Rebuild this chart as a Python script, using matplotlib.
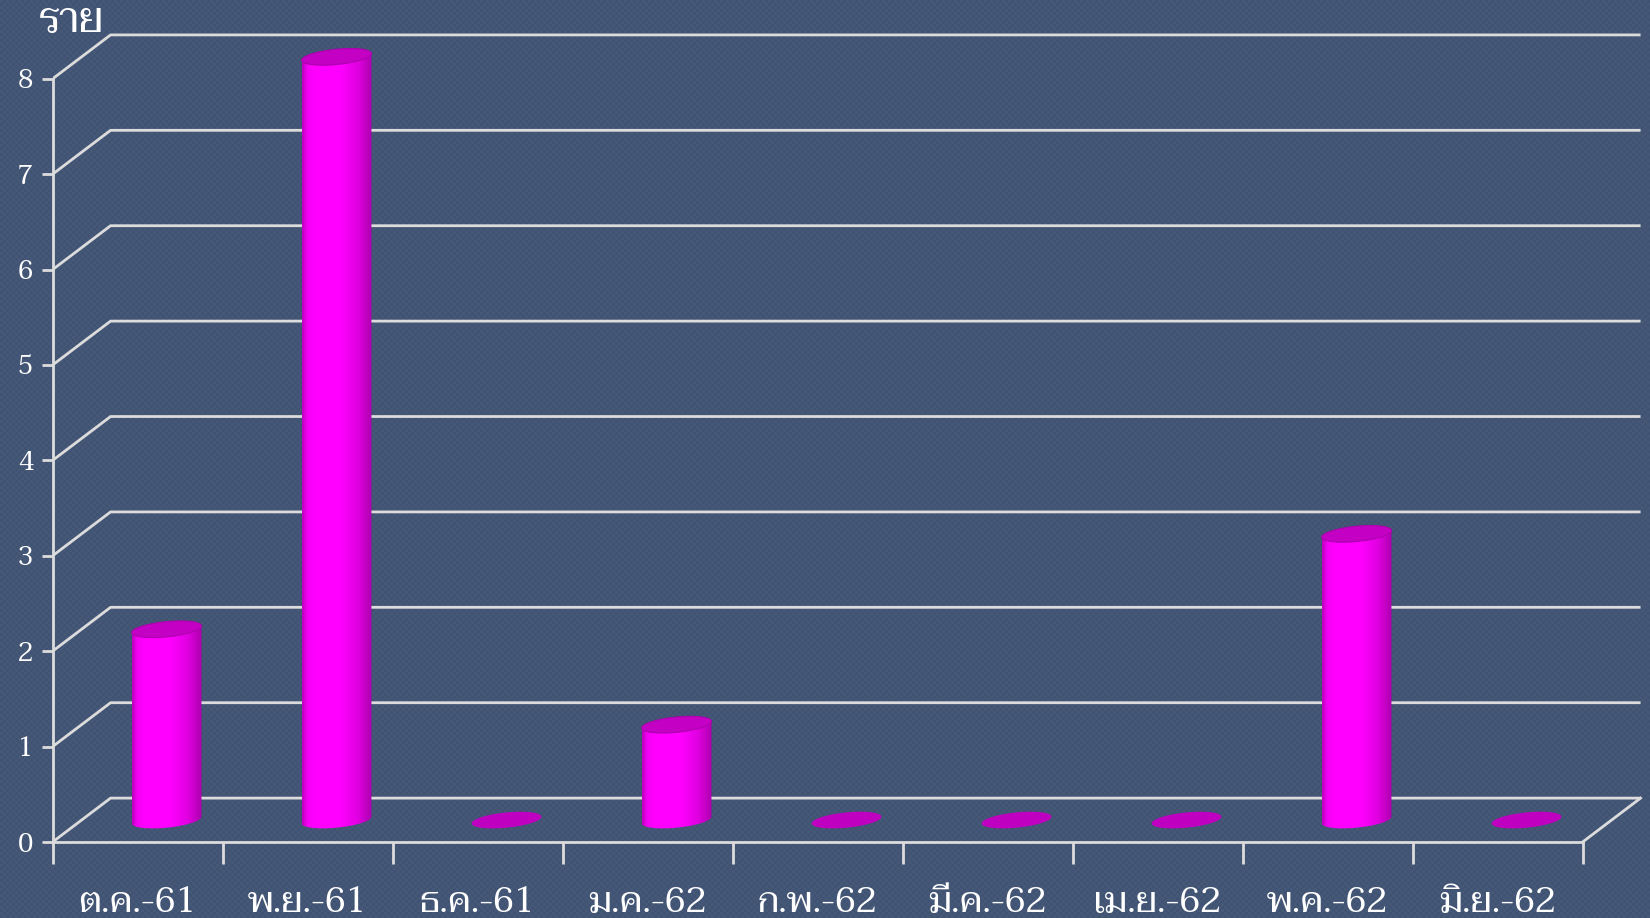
import numpy as np
import matplotlib
matplotlib.use('Agg')
import matplotlib.pyplot as plt
from matplotlib.patches import Polygon
from matplotlib.colors import LinearSegmentedColormap

months = ['ต.ค.-61', 'พ.ย.-61', 'ธ.ค.-61', 'ม.ค.-62', 'ก.พ.-62',
          'มี.ค.-62', 'เม.ย.-62', 'พ.ค.-62', 'มิ.ย.-62']
cases = [2, 8, 0, 1, 0, 0, 0, 3, 0]
yticks = [0, 1, 2, 3, 4, 5, 6, 7, 8]
unit_label = 'ราย'

plt.rcParams['font.family'] = ['Taviraj', 'DejaVu Sans']

bg = '#465878'
grid_c = '#dcdcdc'
DX, DY = 0.341, 0.46      # depth offset of the back wall (data units)
W = 0.41                  # cylinder width
EH = 0.16                 # ellipse height
SL = 0.17                 # ellipse tilt

fig = plt.figure(figsize=(16.5, 9.18), dpi=100)
fig.patch.set_facecolor(bg)

# faint checker texture on the background
yy, xx = np.indices((918, 1650))
chk = ((xx // 3 + yy // 3) % 2)
tex = np.zeros((918, 1650, 3))
tex[:] = np.array([70, 88, 120]) / 255
tex[chk == 1] = np.array([65, 83, 115]) / 255
fig.figimage(tex, 0, 0, zorder=-5)

ax = fig.add_axes([52.6 / 1650, 76 / 918, 9.36 * 170 / 1650, 8.6 * 95.4 / 918])
ax.set_zorder(1)
ax.set_facecolor('none')
ax.set_xlim(0, 9.36)
ax.set_ylim(0, 8.6)

# walls / grid
for y in yticks:
    ax.plot([0, DX, 9 + DX], [y, y + DY, y + DY], color=grid_c, lw=2, zorder=1,
            solid_capstyle='butt')
ax.plot([9, 9 + DX], [0, DY], color=grid_c, lw=2, zorder=1)

for s in ['top', 'right']:
    ax.spines[s].set_visible(False)
for s in ['left', 'bottom']:
    ax.spines[s].set_color(grid_c)
    ax.spines[s].set_linewidth(2)
ax.spines['left'].set_bounds(0, 8)
ax.spines['bottom'].set_bounds(0, 9)

ax.set_yticks(yticks)
ax.set_yticklabels([str(v) for v in yticks])
ax.tick_params(axis='y', colors=grid_c, length=8, width=2, pad=6,
               labelsize=19, labelcolor='white')
ax.set_xticks(range(10))
ax.set_xticklabels([])
ax.tick_params(axis='x', which='major', colors=grid_c, length=16, width=2)
ax.set_xticks(np.arange(9) + 0.5, minor=True)
ax.set_xticklabels(months, minor=True)
ax.tick_params(axis='x', which='minor', length=0, pad=32, labelsize=26,
               labelcolor='white')

ax.text(-0.009, 1.0, unit_label, transform=ax.transAxes, color='white',
        fontsize=30, ha='left', va='center')

cmap = LinearSegmentedColormap.from_list('cyl', [
    (0.0, (0.72, 0.0, 0.72)), (0.07, (0.95, 0.0, 0.95)), (0.18, (1, 0, 1)),
    (0.55, (1, 0, 1)), (0.8, (0.88, 0.0, 0.88)), (1.0, (0.68, 0.0, 0.68))])

t = np.linspace(0, 2 * np.pi, 120)


def ellipse_pts(xc, yc, tt):
    x = xc + W / 2 * np.cos(tt)
    y = yc + EH / 2 * np.sin(tt) + SL * (x - xc)
    return np.column_stack([x, y])


for i, v in enumerate(cases):
    xc = i + 0.5 + DX / 2
    yb = DY / 2
    if v == 0:
        ax.add_patch(Polygon(ellipse_pts(xc, yb, t), closed=True,
                             facecolor='#c000c0', edgecolor='none', zorder=3))
        continue
    yt = v + DY / 2
    low = ellipse_pts(xc, yb, np.linspace(np.pi, 2 * np.pi, 60))
    top = ellipse_pts(xc, yt, np.linspace(2 * np.pi, np.pi, 60))
    body = Polygon(np.vstack([low, top]), closed=True, facecolor='none',
                   edgecolor='none', zorder=3)
    ax.add_patch(body)
    grad = np.linspace(0, 1, 256).reshape(1, -1)
    im = ax.imshow(grad, cmap=cmap, aspect='auto', zorder=3,
                   extent=[xc - W / 2, xc + W / 2, yb - EH, yt + EH])
    im.set_clip_path(body)
    ax.add_patch(Polygon(ellipse_pts(xc, yt, t), closed=True,
                         facecolor='#c400c4', edgecolor='#b000b0', lw=0.8,
                         zorder=4))

ax.set_xlim(0, 9.36)
ax.set_ylim(0, 8.6)

fig.savefig('out.png', dpi=100, facecolor=fig.get_facecolor())
